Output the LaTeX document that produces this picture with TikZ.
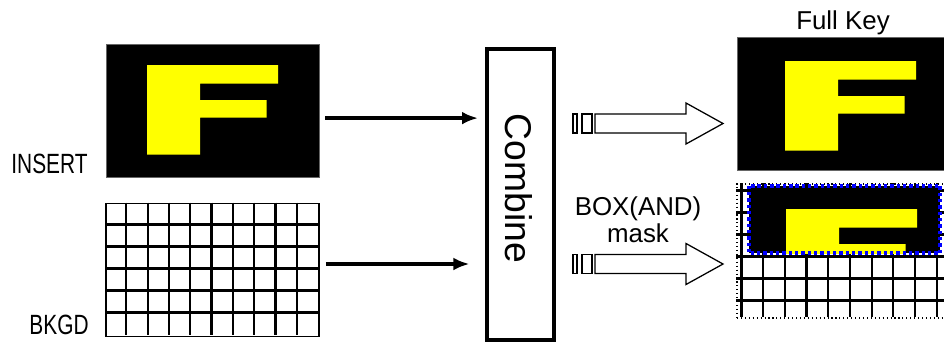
\documentclass[tikz,border=0pt]{standalone}
\usepackage{fontspec}
\setmainfont{Liberation Sans}
\definecolor{keyyellow}{RGB}{255, 255, 0}
\definecolor{maskblue}{RGB}{0, 0, 255}
\usetikzlibrary{arrows.meta, positioning, calc}
\tikzset{
	frame/.style={rectangle, inner sep=0pt, minimum width=5.325cm, minimum height=3.325cm},
	keyframe/.style={frame, fill=black, draw=black!60, line width=0.4pt},
	gridframe/.style={frame, draw=black, line width=1.3pt, fill=white},
	gridline/.style={draw=black, line width=1.6pt},
	combinebox/.style={rectangle, draw=black, line width=2.8pt, minimum width=1.675cm, minimum height=7.275cm, inner sep=0pt},
	arrow/.style={-{Latex[length=0.4cm, width=0.32cm]}, line width=2.3pt},
	hollow/.style={draw=black, line width=0.9pt, fill=white},
	sidelabel/.style={font=\fontsize{19.8}{22}\selectfont, inner sep=0pt, anchor=base},
	caption/.style={font=\fontsize{18.4}{21}\selectfont, inner sep=0pt, anchor=base},
	maskedge/.style={draw=maskblue, line width=2.8pt, dash pattern=on 2.4pt off 2.1pt},
	pics/letterF/.style={code={
		\fill[keyyellow] (0,0) -- (131,0) -- (131,18.5) -- (53,18.5) -- (53,35) -- (119.5,35) -- (119.5,52.5) -- (53,52.5) -- (53,89.5) -- (0,89.5) -- cycle;
	}},
	pics/fatarrow/.style={code={
		\draw[hollow] (-22,-9.5) rectangle (-18,9.5);
		\draw[hollow] (-13,-9.5) rectangle (-3,9.5);
		\draw[hollow] (0,-9.5) -- (91,-9.5) -- (91,-20.5) -- (128,0) -- (91,20.5) -- (91,9.5) -- (0,9.5) -- cycle;
	}},
}
\begin{document}
\begin{tikzpicture}[x=0.025cm, y=-0.025cm]
	\useasboundingbox (0,0) rectangle (944,344);
	% inputs
	\node[keyframe] (insert) at (212.5,110.5) {};
	\pic at (147,65) {letterF};
	\node[gridframe] (bkgd) at (212.5,270) {};
	\foreach \i in {1,...,9}{\draw[gridline] (bkgd.north west) ++(\i*21.3,0) -- ++(0,132);}
	\foreach \j in {1,...,5}{\draw[gridline] (bkgd.north west) ++(0,\j*22) -- ++(213,0);}
	\node[sidelabel] (insertlabel) at (49.5,173) {\scalebox{0.75}[1]{INSERT}};
	\node[sidelabel] (bkgdlabel) at (59,334) {\scalebox{0.75}[1]{BKGD}};
	% combiner
	\node[combinebox] (combine) at (520.5,194.5) {};
	\node[rotate=-90, inner sep=0pt, font=\fontsize{26.5}{30}\selectfont] (combinetext) at (519,188.5) {Combine};
	\coordinate (in1) at ([xshift=0.15cm, yshift=-0.19cm]insert.east);
	\coordinate (in2) at ([xshift=0.15cm, yshift=0.15cm]bkgd.east);
	\draw[arrow, shorten >=0.175cm] (in1) -- (in1 -| combine.west);
	\draw[arrow, shorten >=0.39cm] (in2) -- (in2 -| combine.west);
	\pic (out1) at (595,123.5) {fatarrow};
	\pic (out2) at (595,264) {fatarrow};
	\node[caption] (boxlabel) at (638,215.5) {BOX(AND)};
	\node[caption] (masklabel) at (638,242) {mask};
	% outputs
	\node[caption] (fullkeylabel) at (843,29) {Full Key};
	\node[keyframe] (fullkey) at (843.5,103.5) {};
	\pic at (785,61) {letterF};
	\node[frame, draw=black, dotted, line width=0.8pt, fill=white, minimum height=3.35cm] (keyout) at (843.5,251) {};
	\foreach \i in {0,...,9}{\draw[gridline] (keyout.north west) ++({5+\i*21.7},0) -- ++(0,134);}
	\foreach \j in {0,...,5}{\draw[gridline] (keyout.north west) ++(0,{7+\j*22}) -- ++(213,0);}
	\node[rectangle, fill=black, inner sep=0pt, minimum width=4.775cm, minimum height=1.675cm] (mask) at (844.5,219.5) {};
	\begin{scope}
		\clip (mask.north west) rectangle (mask.south east);
		\pic at (786,209) {letterF};
	\end{scope}
	\draw[maskedge] (mask.north west) rectangle (mask.south east);
\end{tikzpicture}
\end{document}
